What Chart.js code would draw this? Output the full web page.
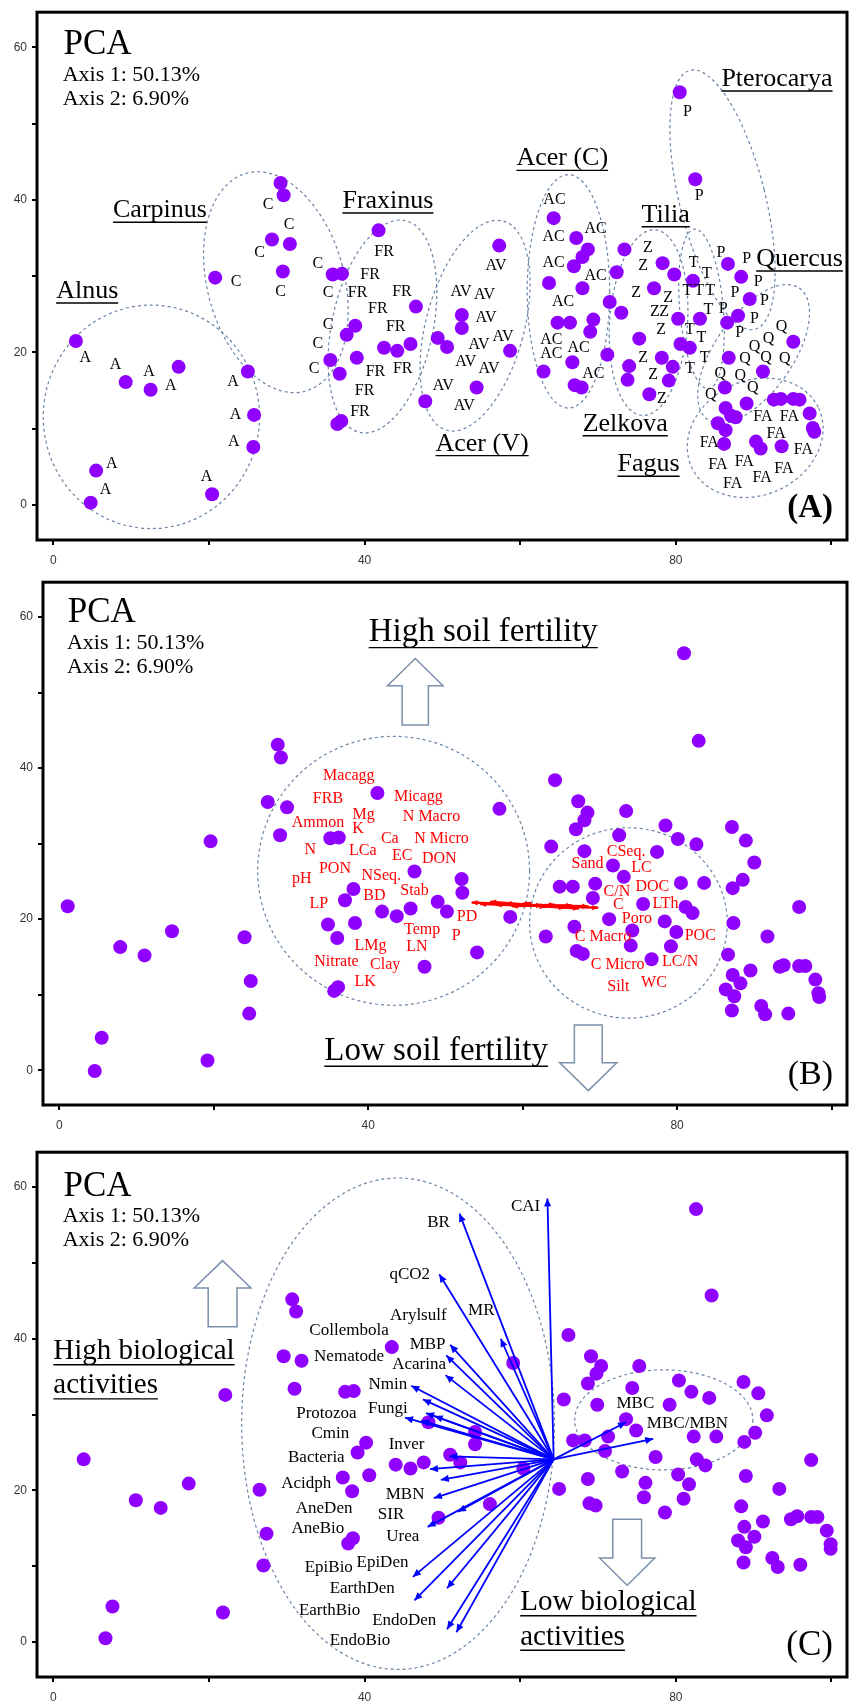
<!DOCTYPE html>
<html>
<head>
<meta charset="utf-8">
<script src="https://cdn.jsdelivr.net/npm/chart.js@4.4.0/dist/chart.umd.min.js"></script>
<style>
  body { margin: 0; background: #fff; width: 854px; height: 1707px; position: relative; overflow: hidden; }
  canvas { position: absolute; left: 0; }
</style>
</head>
<body>
<canvas id="chartA" width="854" height="574" style="top:0px"></canvas>
<canvas id="chartB" width="854" height="570" style="top:570px"></canvas>
<canvas id="chartC" width="854" height="567" style="top:1140px"></canvas>
<script>
'use strict'

// axis ticks shared by the three panels
const xTickValues = [0, 20, 40, 60, 80, 100];
const xTickLabels = [0, 40, 80];
const yTickValues = [0, 10, 20, 30, 40, 50, 60];
const yTickLabels = [0, 20, 40, 60];

// ---------- panel A : site scores with species codes ----------
const sitesA = [
  [2.9,21.5],[9.3,16.1],[12.5,15.1],[16.1,18.1],[5.5,4.5],[4.8,0.3],[20.4,1.4],[25.0,17.5],[25.8,11.8],[25.7,7.6],
  [29.2,42.2],[29.6,40.6],[28.1,34.8],[30.4,34.2],[29.5,30.6],[20.8,29.8],[35.9,30.2],[37.1,30.3],[37.7,22.3],[38.8,23.5],
  [35.6,19.0],[36.8,17.2],[36.5,10.6],[37.0,11.0],[39.0,19.3],[41.8,36.0],[42.5,20.6],[44.2,20.2],[45.9,21.1],[46.6,26.0],[47.8,13.6],
  [57.3,34.0],[49.4,21.9],[50.6,20.7],[52.5,24.9],[52.5,23.2],[58.7,20.2],[54.4,15.4],
  [64.3,37.6],[67.2,35.0],[68.7,33.5],[68.0,32.5],[66.9,31.3],[63.7,29.1],[68.0,28.4],[71.5,26.6],[64.8,23.9],[66.4,23.9],
  [69.4,24.3],[69.0,22.7],[71.2,19.7],[63.0,17.5],[66.7,18.7],[67.0,15.7],[67.9,15.4],
  [73.4,33.5],[72.4,30.5],[73.0,25.2],[75.3,21.8],[78.3,31.7],[79.8,30.2],[77.2,28.4],[80.3,24.4],[80.6,21.1],[81.8,20.6],
  [74.0,18.2],[73.8,16.4],[78.2,19.3],[79.6,18.1],[79.1,16.3],[76.6,14.5],
  [82.2,29.4],[83.1,24.4],
  [80.5,54.1],[82.5,42.7],[86.7,31.6],[88.4,29.9],[89.5,27.0],[88.0,24.8],[86.6,23.9],
  [95.1,21.4],[86.8,19.3],[91.2,17.5],[86.3,15.4],[89.1,13.3],
  [92.6,13.8],[93.5,13.9],[95.1,13.9],[95.9,13.8],[97.2,12.0],[97.6,10.1],[97.8,9.6],[86.4,12.7],[87.1,11.7],[87.7,11.5],
  [85.4,10.7],[86.4,9.8],[86.2,8.0],[90.3,8.3],[90.9,7.4],[93.6,7.7]
];

const siteCodesA = [
  [4.1,19.3,'A'],[8.0,18.4,'A'],[12.3,17.4,'A'],[15.1,15.6,'A'],[7.5,5.4,'A'],[6.7,2.0,'A'],[19.7,3.7,'A'],[23.1,16.2,'A'],[23.4,11.8,'A'],[23.2,8.3,'A'],
  [27.6,39.3,'C'],[30.3,36.7,'C'],[26.5,33.0,'C'],[29.2,28.0,'C'],[23.5,29.3,'C'],[34.0,31.6,'C'],[35.3,27.8,'C'],[35.3,23.6,'C'],[34.0,21.1,'C'],[33.5,17.9,'C'],
  [42.5,33.2,'FR'],[40.7,30.2,'FR'],[39.1,27.8,'FR'],[44.8,27.9,'FR'],[41.7,25.7,'FR'],[44.0,23.3,'FR'],[41.4,17.5,'FR'],[44.9,17.9,'FR'],[40.0,14.9,'FR'],[39.4,12.2,'FR'],
  [56.9,31.3,'AV'],[52.4,27.9,'AV'],[55.4,27.5,'AV'],[55.6,24.5,'AV'],[54.7,21.0,'AV'],[57.8,22.1,'AV'],[53.0,18.7,'AV'],[56.0,17.9,'AV'],[50.1,15.6,'AV'],[52.8,13.0,'AV'],
  [64.4,40.0,'AC'],[64.3,35.2,'AC'],[69.7,36.2,'AC'],[64.3,31.7,'AC'],[69.7,30.1,'AC'],[65.5,26.6,'AC'],[64.0,21.7,'AC'],[64.0,19.8,'AC'],[67.5,20.6,'AC'],[69.4,17.2,'AC'],
  [76.4,33.7,'Z'],[75.8,31.3,'Z'],[74.9,27.8,'Z'],[79.0,27.2,'Z'],[77.3,25.3,'Z'],[78.5,25.3,'Z'],[78.1,23.0,'Z'],[75.8,19.3,'Z'],[77.1,17.0,'Z'],[78.2,13.9,'Z'],
  [82.3,31.7,'T'],[84.0,30.3,'T'],[81.5,28.1,'T'],[83.0,28.1,'T'],[84.4,28.1,'T'],[84.2,25.6,'T'],[81.8,23.0,'T'],[83.3,21.9,'T'],[83.7,19.3,'T'],[81.8,17.8,'T'],
  [81.5,51.6,'P'],[83.0,40.5,'P'],[85.8,33.0,'P'],[89.1,32.3,'P'],[90.6,29.3,'P'],[87.6,27.8,'P'],[91.4,26.8,'P'],[86.1,25.7,'P'],[90.1,24.4,'P'],[88.2,22.6,'P'],
  [93.6,23.3,'Q'],[91.9,21.8,'Q'],[90.1,20.7,'Q'],[88.9,19.1,'Q'],[91.6,19.3,'Q'],[94.0,19.1,'Q'],[85.7,17.2,'Q'],[88.3,16.9,'Q'],[89.9,15.4,'Q'],[84.5,14.5,'Q'],
  [91.2,11.5,'FA'],[94.6,11.5,'FA'],[92.9,9.3,'FA'],[84.3,8.2,'FA'],[96.4,7.2,'FA'],[85.4,5.3,'FA'],[88.8,5.7,'FA'],[93.9,4.8,'FA'],[91.1,3.5,'FA'],[87.3,2.8,'FA']
];

const genusNamesA = [
  [4.35,28.0,'Alnus'],[13.7,38.6,'Carpinus'],[43.0,39.8,'Fraxinus'],[55.1,8.0,'Acer (V)'],[65.4,45.4,'Acer (C)'],
  [78.7,38.0,'Tilia'],[73.5,10.6,'Zelkova'],[76.5,5.3,'Fagus'],[93.0,55.8,'Pterocarya'],[95.9,32.2,'Quercus']
];

// [centre x, centre y, half width, half height, tilt in degrees]
const groupEllipsesA = [
  [12.6,11.55,13.9,14.65,0],[28.6,29.2,8.8,14.8,-15],[42.3,23.4,6.5,14.2,12],[54.2,23.5,6.3,14.2,15],[66.2,28.0,5.3,15.3,0],
  [76.5,23.9,5.0,12.2,4],[83.3,25.7,2.8,10.5,-5],[86.0,40.0,5.5,17.5,-14],[90.0,19.8,5.0,10.5,35],[90.2,8.8,9.0,7.5,-25]
];

// ---------- panel B : soil properties ----------
const sitesB = [
  [1.1,21.7],[7.9,16.3],[11.05,15.2],[14.6,18.4],[5.5,4.3],[4.6,-0.1],[19.2,1.3],[24.0,17.6],[24.8,11.8],[24.6,7.5],
  [19.6,30.3],[28.3,43.1],[28.7,41.4],[27.0,35.5],[29.5,34.8],[28.6,31.1],[35.1,30.7],[36.2,30.8],[41.2,36.7],[46.0,26.3],
  [38.1,24.0],[37.0,22.5],[34.8,19.3],[36.0,17.5],[38.3,19.5],[41.8,21.0],[43.7,20.4],[45.5,21.4],[35.6,10.5],[36.1,11.0],[47.3,13.7],
  [80.9,55.2],[82.8,43.6],[64.2,38.4],[57.0,34.6],[67.2,35.6],[68.4,34.1],[68.0,33.1],[66.9,31.9],[73.4,34.3],[72.5,31.1],
  [63.7,29.6],[68.0,29.0],[71.7,27.1],[73.1,25.6],[77.4,28.9],[78.5,32.4],[80.1,30.6],[82.5,29.9],[64.8,24.3],[66.5,24.3],
  [69.4,24.7],[69.1,22.8],[52.1,25.3],[52.2,23.5],[49.0,22.3],[50.2,21.0],[58.4,20.3],[54.1,15.6],[63.0,17.7],[66.7,19.0],
  [67.0,15.8],[67.8,15.4],[71.2,20.0],[74.2,18.5],[74.0,16.5],[75.6,22.0],[80.5,24.8],[83.5,24.8],[78.4,19.7],[79.9,18.3],
  [79.2,16.4],[76.7,14.7],[81.1,21.6],[82.0,20.8],[87.1,32.2],[88.9,30.4],[90.0,27.5],[88.5,25.2],[87.2,24.1],[87.3,19.5],
  [95.8,21.6],[91.7,17.7],[86.6,15.3],[89.5,13.2],[87.2,12.6],[88.2,11.5],[86.3,10.7],[87.4,9.8],[87.1,7.9],[90.9,8.5],
  [91.4,7.4],[94.4,7.5],[93.3,13.7],[93.8,13.9],[95.8,13.8],[96.6,13.8],[97.9,12.0],[98.3,10.2],[98.4,9.7]
];

const soilLabelsB = [
  [37.5,39.0,'Macagg'],[46.5,36.2,'Micagg'],[34.8,35.9,'FRB'],[39.4,33.8,'Mg'],[48.2,33.6,'N Macro'],[33.5,32.7,'Ammon'],
  [38.7,31.9,'K'],[42.8,30.7,'Ca'],[49.5,30.6,'N Micro'],[32.5,29.2,'N'],[39.3,29.1,'LCa'],[44.4,28.4,'EC'],[49.2,28.0,'DON'],
  [35.7,26.6,'PON'],[31.4,25.3,'pH'],[41.7,25.8,'NSeq.'],[46.0,23.8,'Stab'],[40.8,23.1,'BD'],[33.6,22.0,'LP'],[52.8,20.3,'PD'],
  [47.0,18.6,'Temp'],[51.4,17.8,'P'],[40.3,16.5,'LMg'],[46.3,16.3,'LN'],[35.9,14.3,'Nitrate'],[42.2,14.0,'Clay'],[39.6,11.7,'LK'],
  [73.4,28.9,'CSeq.'],[68.4,27.3,'Sand'],[75.4,26.8,'LC'],[72.2,23.6,'C/N'],[76.8,24.3,'DOC'],[72.4,21.9,'C'],[78.5,22.0,'LTh'],
  [74.8,20.1,'Poro'],[70.4,17.7,'C Macro'],[83.0,17.8,'POC'],[72.3,14.0,'C Micro'],[80.4,14.3,'LC/N'],[72.4,11.0,'Silt'],[77.0,11.6,'WC']
];

const soilOriginB = [61.6, 21.8];
const soilTipsB = [
  [53.4,22.2],[54.5,22.0],[55.8,22.3],[56.5,21.9],[57.8,22.1],[58.6,21.7],[59.5,22.0],[60.3,22.2],
  [62.5,21.9],[63.0,21.6],[64.2,21.9],[65.5,21.5],[66.4,21.8],[67.3,21.4],[68.5,21.7],[69.8,21.5]
];

const fertilityEllipsesB = [[43.3,26.4,17.6,17.8,0],[73.7,19.5,12.8,12.6,0]];

// ---------- panel C : biological activities ----------
const sitesC = [
  [30.7,45.2],[31.2,43.6],[29.6,37.7],[31.9,37.1],[31.0,33.4],[22.1,32.6],[37.5,33.0],[38.6,33.1],[43.5,38.9],[3.9,24.1],
  [17.4,20.9],[10.6,18.7],[13.8,17.7],[26.5,20.1],[27.4,14.3],[27.0,10.1],[7.6,4.7],[6.7,0.5],[21.8,3.9],[40.2,26.3],
  [39.1,25.0],[37.2,21.7],[38.4,19.9],[40.6,22.0],[44.0,23.4],[45.9,22.9],[47.6,23.7],[37.9,13.0],[38.5,13.7],
  [48.2,29.0],[51.0,24.7],[52.3,23.7],[54.2,27.7],[54.2,26.1],[56.1,18.2],[49.5,16.4],[60.4,22.9],[59.1,36.8],
  [82.6,57.1],[84.6,45.7],[66.2,40.5],[69.1,37.7],[70.4,36.4],[69.8,35.4],[68.7,34.1],[75.3,36.4],[74.4,33.5],[65.6,32.0],
  [69.9,31.3],[80.4,34.5],[82.0,33.0],[79.2,31.3],[84.3,32.2],[73.6,29.4],[74.9,27.9],[66.8,26.6],[68.3,26.6],[71.3,27.1],
  [70.9,25.2],[82.3,27.1],[85.2,27.1],[77.4,24.4],[82.7,24.1],[83.8,23.3],[73.1,22.5],[68.7,21.5],[65.0,20.2],[76.1,21.0],
  [75.9,19.1],[80.3,22.1],[81.7,20.8],[81.0,18.9],[68.9,18.3],[69.7,18.0],[78.6,17.1],[88.7,34.3],[90.6,32.8],[91.7,29.9],
  [90.2,27.6],[88.8,26.4],[97.4,24.0],[89.0,21.9],[93.3,20.2],[88.4,17.9],[88.8,15.2],[91.2,15.9],[90.1,13.9],[88.0,13.4],
  [89.0,12.5],[88.7,10.5],[94.8,16.2],[95.6,16.6],[97.4,16.5],[98.2,16.5],[99.4,14.7],[99.9,12.9],[99.9,12.3],[92.4,11.1],
  [93.1,9.9],[96.0,10.2]
];

const bioLabelsC = [
  [60.7,57.4,'CAI'],[49.5,55.3,'BR'],[45.8,48.5,'qCO2'],[55.0,43.7,'MR'],[46.9,43.1,'Arylsulf'],[38.0,41.1,'Collembola'],
  [48.1,39.2,'MBP'],[38.0,37.7,'Nematode'],[47.0,36.6,'Acarina'],[43.0,34.0,'Nmin'],[43.0,30.8,'Fungi'],[35.1,30.2,'Protozoa'],
  [35.6,27.5,'Cmin'],[45.4,26.1,'Inver'],[33.8,24.4,'Bacteria'],[32.5,20.9,'Acidph'],[45.2,19.5,'MBN'],[34.8,17.6,'AneDen'],
  [43.4,16.8,'SIR'],[34.0,15.0,'AneBio'],[44.9,13.9,'Urea'],[42.3,10.5,'EpiDen'],[35.4,9.9,'EpiBio'],[39.7,7.0,'EarthDen'],
  [35.5,4.1,'EarthBio'],[45.1,2.9,'EndoDen'],[39.4,0.2,'EndoBio'],[74.8,31.4,'MBC'],[81.5,28.8,'MBC/MBN']
];

const bioOriginC = [64.3, 24.1];
const bioTipsC = [
  [63.5,58.5],[52.2,56.5],[49.6,48.5],[57.5,40.0],[51.0,39.2],[50.5,37.8],[50.4,35.2],[46.0,33.8],[47.5,32.0],
  [47.9,30.2],[49.0,29.8],[45.2,29.6],[47.3,29.2],[50.9,24.5],[48.4,22.8],[49.8,21.4],[48.9,19.0],[52.0,17.2],
  [48.1,15.2],[46.2,8.6],[50.6,7.1],[46.4,5.5],[50.6,1.7],[51.8,1.3],[73.6,29.0],[77.1,26.8]
];

const activityEllipsesC = [[44.3,28.8,20.1,32.4,0],[78.45,29.3,11.45,6.6,0]];

const serif = '"Liberation Serif", "Times New Roman", serif';

function drawText(ctx, sx, sy, x, y, text, size, color, align, underline, weight) {
  ctx.font = (weight || 'normal') + ' ' + size + 'px ' + serif;
  ctx.fillStyle = color;
  ctx.textAlign = align;
  ctx.textBaseline = 'middle';
  const px = sx.getPixelForValue(x), py = sy.getPixelForValue(y);
  ctx.fillText(text, px, py);
  if (underline) {
    const w = ctx.measureText(text).width;
    const x0 = align === 'center' ? px - w / 2 : (align === 'right' ? px - w : px);
    ctx.strokeStyle = color;
    ctx.lineWidth = 1.4;
    ctx.beginPath();
    ctx.moveTo(x0, py + size * 0.45);
    ctx.lineTo(x0 + w, py + size * 0.45);
    ctx.stroke();
  }
}

function drawVector(ctx, sx, sy, from, to, color, width, head) {
  const x0 = sx.getPixelForValue(from[0]), y0 = sy.getPixelForValue(from[1]);
  const x1 = sx.getPixelForValue(to[0]), y1 = sy.getPixelForValue(to[1]);
  const a = Math.atan2(y1 - y0, x1 - x0);
  ctx.strokeStyle = color;
  ctx.fillStyle = color;
  ctx.lineWidth = width;
  ctx.beginPath();
  ctx.moveTo(x0, y0);
  ctx.lineTo(x1, y1);
  ctx.stroke();
  ctx.beginPath();
  ctx.moveTo(x1, y1);
  ctx.lineTo(x1 - head * Math.cos(a) + head * 0.45 * Math.sin(a), y1 - head * Math.sin(a) - head * 0.45 * Math.cos(a));
  ctx.lineTo(x1 - head * Math.cos(a) - head * 0.45 * Math.sin(a), y1 - head * Math.sin(a) + head * 0.45 * Math.cos(a));
  ctx.closePath();
  ctx.fill();
}

const pcaOverlay = {
  id: 'pcaOverlay',
  beforeDatasetsDraw(chart, args, o) {
    const ctx = chart.ctx, sx = chart.scales.x, sy = chart.scales.y;
    const ux = sx.getPixelForValue(1) - sx.getPixelForValue(0);
    const uy = sy.getPixelForValue(0) - sy.getPixelForValue(1);
    ctx.save();
    ctx.strokeStyle = '#6a84a6';
    ctx.lineWidth = 1.2;
    ctx.setLineDash([3, 3]);
    (o.ellipses || []).forEach(([cx, cy, rx, ry, tilt]) => {
      ctx.beginPath();
      ctx.ellipse(sx.getPixelForValue(cx), sy.getPixelForValue(cy), rx * ux, ry * uy, tilt * Math.PI / 180, 0, Math.PI * 2);
      ctx.stroke();
    });
    ctx.setLineDash([]);
    // hollow block arrows: centre x, tip y, head base y, shaft end y, head half width, shaft half width
    ctx.strokeStyle = '#7b90ab';
    ctx.fillStyle = '#ffffff';
    ctx.lineWidth = 1.5;
    (o.blockArrows || []).forEach(([cx, tip, base, end, hw, sw]) => {
      const X = v => sx.getPixelForValue(v), Y = v => sy.getPixelForValue(v);
      ctx.beginPath();
      ctx.moveTo(X(cx), Y(tip));
      ctx.lineTo(X(cx + hw), Y(base));
      ctx.lineTo(X(cx + sw), Y(base));
      ctx.lineTo(X(cx + sw), Y(end));
      ctx.lineTo(X(cx - sw), Y(end));
      ctx.lineTo(X(cx - sw), Y(base));
      ctx.lineTo(X(cx - hw), Y(base));
      ctx.closePath();
      ctx.fill();
      ctx.stroke();
    });
    ctx.restore();
  },
  afterDatasetsDraw(chart, args, o) {
    const ctx = chart.ctx, sx = chart.scales.x, sy = chart.scales.y;
    ctx.save();
    if (o.vectors) {
      o.vectors.tips.forEach(t => drawVector(ctx, sx, sy, o.vectors.origin, t, o.vectors.color, o.vectors.width, o.vectors.head));
    }
    (o.labels || []).forEach(([x, y, t]) => drawText(ctx, sx, sy, x, y, t, o.labelSize, o.labelColor, 'center'));
    (o.titles || []).forEach(([x, y, t]) => drawText(ctx, sx, sy, x, y, t, o.titleSize, '#000', o.titleAlign || 'center', true));
    drawText(ctx, sx, sy, o.pca[0], o.pca[1], 'PCA', 35, '#000', 'left');
    drawText(ctx, sx, sy, o.pca[0] - 0.1, o.pca[1] - 4, 'Axis 1: 50.13%', 22, '#000', 'left');
    drawText(ctx, sx, sy, o.pca[0] - 0.1, o.pca[1] - 7.1, 'Axis 2: 6.90%', 22, '#000', 'left');
    drawText(ctx, sx, sy, o.tag[0], o.tag[1], o.tag[2], o.tag[3], '#000', 'right', false, o.tag[4]);
    ctx.restore();
  },
  afterDraw(chart) {
    const {ctx, chartArea: a} = chart;
    ctx.save();
    ctx.strokeStyle = '#000';
    ctx.lineWidth = 3;
    ctx.strokeRect(a.left, a.top, a.right - a.left, a.bottom - a.top);
    ctx.restore();
  }
};

function makePanel(id, g, sites, overlay) {
  const tickFont = { family: '"Liberation Sans Narrow", "Liberation Sans", Arial, sans-serif', size: 12 };
  return new Chart(document.getElementById(id), {
    type: 'scatter',
    data: {
      datasets: [{
        data: sites.map(([x, y]) => ({ x, y })),
        pointRadius: 7,
        pointHoverRadius: 7,
        backgroundColor: '#8f00ff',
        borderWidth: 0
      }]
    },
    options: {
      responsive: false,
      animation: false,
      events: [],
      layout: { padding: { top: g.top, right: 854 - g.right, left: 0, bottom: 0 } },
      plugins: {
        legend: { display: false },
        tooltip: { enabled: false },
        pcaOverlay: overlay
      },
      scales: {
        x: {
          type: 'linear',
          min: -2.1,
          max: 102,
          afterBuildTicks: s => { s.ticks = xTickValues.map(v => ({ value: v })); },
          afterFit: s => { s.height = g.xh; },
          ticks: {
            callback: v => xTickLabels.includes(v) ? String(v) : '',
            font: tickFont, color: '#333', padding: 8, maxRotation: 0, autoSkip: false
          },
          grid: { drawOnChartArea: false, drawTicks: true, tickLength: 5, color: '#000', lineWidth: 2 },
          border: { display: false }
        },
        y: {
          type: 'linear',
          min: -4.6,
          max: 64.6,
          afterBuildTicks: s => { s.ticks = yTickValues.map(v => ({ value: v })); },
          afterFit: s => { s.width = g.left; },
          ticks: {
            callback: v => yTickLabels.includes(v) ? String(v) : '',
            font: tickFont, color: '#333', padding: 5, autoSkip: false
          },
          grid: { drawOnChartArea: false, drawTicks: true, tickLength: 5, color: '#000', lineWidth: 2 },
          border: { display: false }
        }
      }
    },
    plugins: [pcaOverlay]
  });
}

makePanel('chartA', { top: 5.5, left: 37, right: 847, xh: 34 }, sitesA, {
  ellipses: groupEllipsesA,
  labels: siteCodesA, labelSize: 16, labelColor: '#000',
  titles: genusNamesA, titleSize: 26,
  pca: [1.3, 60.3],
  tag: [100.2, -0.5, '(A)', 33, 'bold']
});

makePanel('chartB', { top: 7, left: 43, right: 849, xh: 35 }, sitesB, {
  ellipses: fertilityEllipsesB,
  blockArrows: [[46.1, 54.5, 50.9, 45.7, 3.6, 1.7], [68.5, -2.7, 1.0, 6.0, 3.7, 1.8]],
  vectors: { origin: soilOriginB, tips: soilTipsB, color: '#ff0000', width: 2.4, head: 6 },
  labels: soilLabelsB, labelSize: 16, labelColor: '#ff0000',
  titles: [[54.9, 57.9, 'High soil fertility'], [48.8, 2.5, 'Low soil fertility']], titleSize: 33,
  pca: [1.1, 60.5],
  tag: [100.2, -0.6, '(B)', 34, 'normal']
});

makePanel('chartC', { top: 7, left: 37, right: 851, xh: 30 }, sitesC, {
  ellipses: activityEllipsesC,
  blockArrows: [[21.75, 50.3, 46.7, 41.6, 3.65, 1.85], [73.75, 7.5, 11.1, 16.2, 3.55, 1.85]],
  vectors: { origin: bioOriginC, tips: bioTipsC, color: '#0000ff', width: 1.8, head: 8 },
  labels: bioLabelsC, labelSize: 17, labelColor: '#000',
  titles: [[0.0, 38.3, 'High biological'], [0.0, 33.8, 'activities'], [60.0, 5.2, 'Low biological'], [60.0, 0.65, 'activities']],
  titleSize: 29, titleAlign: 'left',
  pca: [1.3, 60.1],
  tag: [100.2, -0.5, '(C)', 35, 'normal']
});
</script>
</body>
</html>
